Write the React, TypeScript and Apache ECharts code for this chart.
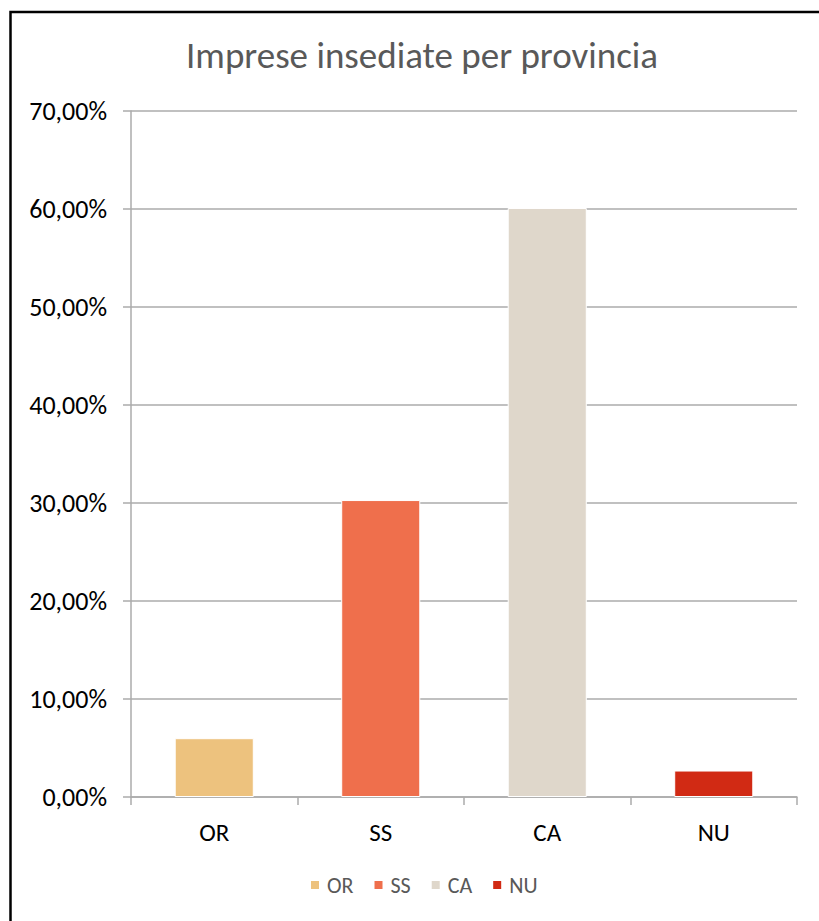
import React, { useEffect, useRef } from "react";
import * as echarts from "echarts";

const categories = ["OR", "SS", "CA", "NU"];
const values = [6.0, 30.3, 60.1, 2.7];
const colors = ["#EDC27E", "#EF6F4C", "#DFD7CB", "#D12A14"];
const yTicks = { min: 0, max: 70, interval: 10 };
const titleText = "Imprese insediate per provincia";

const FONT = "Carlito, Calibri, Lato, sans-serif";

export default function App() {
  const ref = useRef<HTMLDivElement>(null);
  useEffect(() => {
    if (!ref.current) return;
    const chart = echarts.init(ref.current, null, { renderer: "svg" });
    const series = categories.map((c, i) => ({
      name: c,
      type: "bar",
      stack: "all",
      barWidth: "47.5%",
      data: categories.map((_, j) => (j === i ? values[i] : null)),
      itemStyle: { color: colors[i], borderColor: "#ffffff", borderWidth: 1 },
    }));
    chart.setOption({
      animation: false,
      backgroundColor: "#ffffff",
      textStyle: { fontFamily: FONT },
      title: {
        text: titleText,
        left: 417,
        top: 32,
        textAlign: "center",
        textStyle: { color: "#595959", fontSize: 37, fontWeight: "normal", fontFamily: FONT },
      },
      legend: {
        data: categories,
        bottom: 20,
        left: 304,
        icon: "rect",
        itemWidth: 10,
        itemHeight: 10,
        itemGap: 19,
        textStyle: { color: "#595959", fontSize: 22, fontFamily: FONT, padding: [0, 0, 0, 2] },
      },
      grid: { left: 131, right: 22, top: 111, bottom: 124, containLabel: false },
      xAxis: {
        type: "category",
        data: categories,
        axisLine: { show: true, lineStyle: { color: "#ABABAB", width: 1.5 } },
        axisTick: { show: true, length: 8, lineStyle: { color: "#ABABAB", width: 1.5 } },
        axisLabel: { color: "#000000", fontSize: 25, fontFamily: FONT, margin: 23 },
        splitLine: { show: false },
      },
      yAxis: {
        type: "value",
        min: yTicks.min,
        max: yTicks.max,
        interval: yTicks.interval,
        axisLine: { show: true, lineStyle: { color: "#ABABAB", width: 1.5 } },
        axisTick: { show: true, length: 8, lineStyle: { color: "#ABABAB", width: 1.5 } },
        axisLabel: {
          color: "#000000",
          fontSize: 26,
          fontFamily: FONT,
          margin: 24,
          formatter: (v: number) => v.toFixed(2).replace(".", ",") + "%",
        },
        splitLine: { show: true, lineStyle: { color: "#ABABAB", width: 1.5 } },
      },
      graphic: [
        {
          type: "rect",
          shape: { x: 10.5, y: 12, width: 840, height: 940 },
          style: { fill: "none", stroke: "#000000", lineWidth: 2.5 },
          silent: true,
        },
      ],
      series,
    });
    return () => chart.dispose();
  }, []);
  return (
    <div
      ref={ref}
      style={{ position: "fixed", left: 0, top: 0, width: 819, height: 921, background: "#fff" }}
    />
  );
}
